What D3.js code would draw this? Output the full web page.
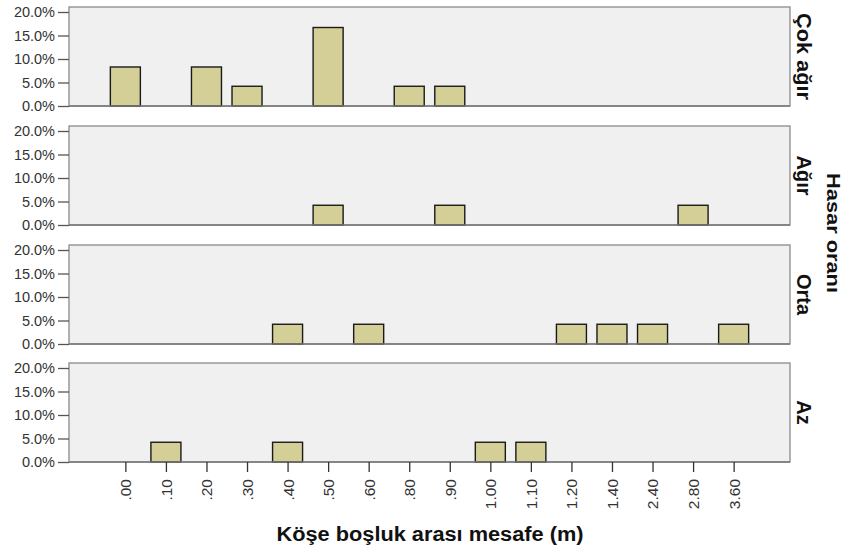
<!DOCTYPE html>
<html>
<head>
<meta charset="utf-8">
<script src="https://cdn.jsdelivr.net/npm/d3@7"></script>
<style>
  body { margin: 0; background: #fff; }
  svg { display: block; }
</style>
</head>
<body>
<svg id="chart" width="849" height="550"></svg>
<script>
const categories = [".00", ".10", ".20", ".30", ".40", ".50", ".60", ".80", ".90", "1.00", "1.10", "1.20", "1.40", "2.40", "2.80", "3.60"];
const panels = ["Çok ağır", "Ağır", "Orta", "Az"];
const cokAgir = [8.3, 0, 8.3, 4.2, 0, 16.7, 0, 4.2, 4.2, 0, 0, 0, 0, 0, 0, 0];
const agir    = [0, 0, 0, 0, 0, 4.2, 0, 0, 4.2, 0, 0, 0, 0, 0, 4.2, 0];
const orta    = [0, 0, 0, 0, 4.2, 0, 4.2, 0, 0, 0, 0, 4.2, 4.2, 4.2, 0, 4.2];
const az      = [0, 4.2, 0, 0, 4.2, 0, 0, 0, 0, 4.2, 4.2, 0, 0, 0, 0, 0];
const yTicks = [0, 5, 10, 15, 20];
const seriesList = [cokAgir, agir, orta, az];
const xTitle = "Köşe boşluk arası mesafe (m)";
const yGroupTitle = "Hasar oranı";

const FONT = "Liberation Sans, Arial, sans-serif";
const svg = d3.select("#chart");
const left = 69, right = 790;
const panelTops = [7, 126, 245, 363];
const panelH = 99;
const innerTopPad = 5;

const x = d3.scalePoint().domain(categories).range([left, right]).padding(1.39);
const barW = x.step() * 0.74;

seriesList.forEach((vals, i) => {
  const top = panelTops[i], bottom = top + panelH;
  const y = d3.scaleLinear().domain([0, 20]).range([bottom, top + innerTopPad]);
  const g = svg.append("g");
  g.append("rect").attr("x", left).attr("y", top).attr("width", right - left).attr("height", panelH)
    .attr("fill", "#f0f0f0").attr("stroke", "#8a8a8a").attr("stroke-width", 1.3);
  const data = categories.map((c, k) => ({c, v: vals[k]})).filter(d => d.v > 0);
  g.selectAll("rect.bar").data(data).enter().append("rect").attr("class", "bar")
    .attr("x", d => x(d.c) - barW / 2).attr("y", d => y(d.v))
    .attr("width", barW).attr("height", d => y(0) - y(d.v))
    .attr("fill", "#d4cf96").attr("stroke", "#1a1a1a").attr("stroke-width", 1.4);
  const ax = g.append("g").attr("transform", `translate(${left},0)`)
    .call(d3.axisLeft(y).tickValues(yTicks).tickSize(11).tickPadding(3).tickFormat(d => d.toFixed(1) + "%"));
  ax.select(".domain").remove();
  ax.selectAll(".tick line").attr("stroke", "#555").attr("stroke-width", 1.3);
  ax.selectAll("text").attr("font-family", FONT).attr("font-size", 14.5).attr("fill", "#333");
  g.append("line").attr("x1", left).attr("x2", right).attr("y1", bottom).attr("y2", bottom)
    .attr("stroke", "#777").attr("stroke-width", 1.5);
  const label = g.append("text")
    .attr("transform", `translate(${797},${top + panelH / 2}) rotate(90)`)
    .attr("text-anchor", "middle").attr("font-family", FONT)
    .attr("font-weight", "bold").attr("font-size", 20).attr("fill", "#111").text(panels[i]);
  if (i === 0) label.attr("textLength", 87).attr("lengthAdjust", "spacingAndGlyphs");
});

const lastBottom = panelTops[3] + panelH;
const xa = svg.append("g").attr("transform", `translate(0,${lastBottom})`)
  .call(d3.axisBottom(x).tickSize(10).tickPadding(6));
xa.select(".domain").remove();
xa.selectAll(".tick line").attr("stroke", "#333").attr("stroke-width", 1.3);
xa.selectAll("text")
  .attr("font-family", FONT).attr("font-size", 15.5).attr("fill", "#333")
  .attr("transform", "rotate(-90)").attr("text-anchor", "end")
  .attr("x", -17).attr("y", 0).attr("dy", "0.35em");

svg.append("text").attr("x", 430).attr("y", 541).attr("text-anchor", "middle")
  .attr("font-family", FONT).attr("font-weight", "bold").attr("font-size", 20)
  .attr("textLength", 307).attr("lengthAdjust", "spacingAndGlyphs")
  .attr("fill", "#111").text(xTitle);

svg.append("text").attr("transform", `translate(827,${233}) rotate(90)`).attr("text-anchor", "middle")
  .attr("font-family", FONT).attr("font-weight", "bold").attr("font-size", 18)
  .attr("textLength", 120).attr("lengthAdjust", "spacingAndGlyphs")
  .attr("fill", "#111").text(yGroupTitle);
</script>
</body>
</html>
